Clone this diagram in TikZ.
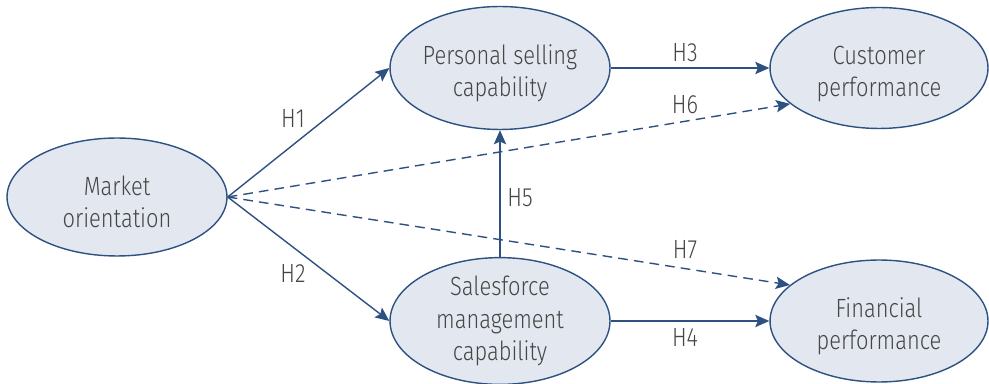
\documentclass[tikz,border=0pt]{standalone}
\usepackage{fontspec}
\setmainfont{Fira Sans}[UprightFont=* Light, FakeStretch=0.83]
\usepackage{tikz}
\usetikzlibrary{shapes.geometric, arrows.meta, positioning}
\definecolor{linkblue}{RGB}{45, 82, 130}
\definecolor{nodefill}{RGB}{227, 232, 240}
\definecolor{textgray}{RGB}{70, 70, 70}
\newcommand{\topgap}{\rule{0pt}{17pt}}
\tikzset{
  construct/.style={ellipse, draw=linkblue, line width=0.8pt, fill=nodefill, align=center, inner sep=0pt, text=textgray, font=\fontsize{15}{18.4}\selectfont},
  link/.style={draw=linkblue, line width=0.8pt, -{Stealth[length=8pt, width=7pt, inset=1.5pt]}},
  dashlink/.style={link, dash pattern=on 5.5pt off 3.5pt},
  hyp/.style={text=textgray, font=\fontsize{15}{18}\selectfont, inner sep=0pt}
}

\begin{document}
\begin{tikzpicture}[x=0.02cm, y=-0.02cm]
  \useasboundingbox (0,0) rectangle (989,384);

  % Constructs
  \node[construct, minimum width=4.4cm, minimum height=2.36cm] (mo) at (117, 197) {\topgap Market\\orientation};
  \node[construct, minimum width=4.4cm, minimum height=2.46cm] (psc) at (500, 68) {\topgap Personal selling\\capability};
  \node[construct, minimum width=4.4cm, minimum height=2.44cm] (smc) at (500, 321) {Salesforce\\management\\capability};
  \node[construct, minimum width=4.36cm, minimum height=2.42cm] (cp) at (879, 68) {\topgap Customer\\performance};
  \node[construct, minimum width=4.36cm, minimum height=2.44cm] (fp) at (879, 321) {\topgap Financial\\performance};

  % Hypotheses
  \draw[link] (mo.east) -- (psc.west);
  \draw[link] (mo.east) -- (smc.west);
  \draw[link] (psc.east) -- (cp.west);
  \draw[link] (smc.east) -- (fp.west);
  \draw[link] (smc.north) -- (psc.south);
  \draw[dashlink] (mo.east) -- (cp.202);
  \draw[dashlink] (mo.east) -- (fp.158);

  % Labels
  \node[hyp] (h1) at (293, 118) {H1};
  \node[hyp] (h2) at (293, 273) {H2};
  \node[hyp] (h3) at (685, 53) {H3};
  \node[hyp] (h4) at (685, 337) {H4};
  \node[hyp] (h5) at (520, 198) {H5};
  \node[hyp] (h6) at (685, 105) {H6};
  \node[hyp] (h7) at (685, 250) {H7};
\end{tikzpicture}
\end{document}
